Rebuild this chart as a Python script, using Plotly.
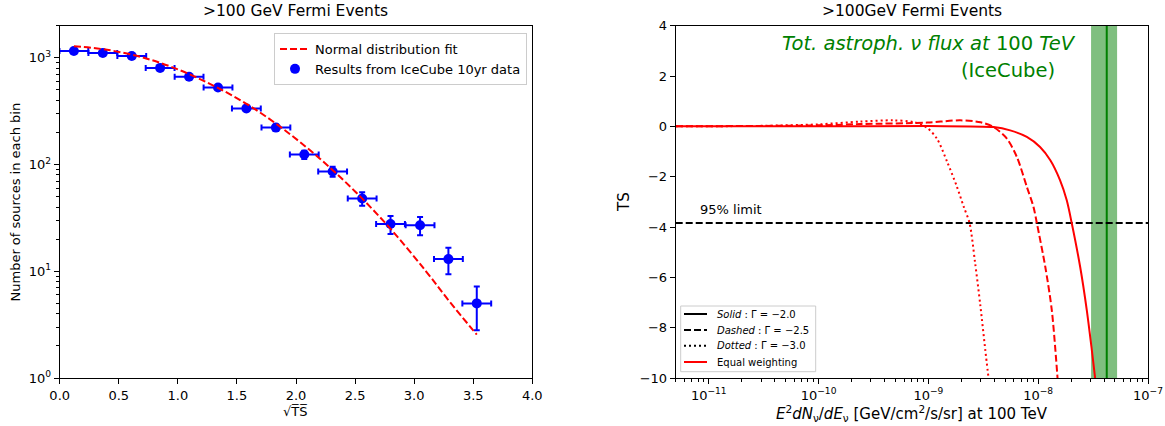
import plotly.graph_objects as go

FONT = "DejaVu Sans"

# ---------------- left panel: sqrt(TS) distribution ----------------
sqrt_ts = [0.12, 0.365, 0.61, 0.85, 1.095, 1.34, 1.58, 1.83, 2.07, 2.31, 2.56, 2.80, 3.05, 3.29, 3.53]
n_sources = [1160, 1110, 1040, 805, 665, 527, 336, 222, 124, 86, 48, 27.7, 27, 13, 5]
n_sources_err = [34, 33, 32, 28, 26, 23, 18, 15, 11, 9.3, 6.9, 5.3, 5.2, 3.6, 2.2]
bin_half_width = [0.122] * len(sqrt_ts)

fit_x = [0.12, 0.4, 0.7, 1.0, 1.3, 1.6, 1.9, 2.2, 2.5, 2.8, 3.1, 3.3, 3.53]
fit_y = [1285, 1190, 1010, 780, 550, 360, 212, 114, 56, 25, 10, 5.2, 2.55]

left_xticks = [0.0, 0.5, 1.0, 1.5, 2.0, 2.5, 3.0, 3.5, 4.0]
left_yticks = [1, 10, 100, 1000]
left_yticklabels = ["10<sup>0</sup>", "10<sup>1</sup>", "10<sup>2</sup>", "10<sup>3</sup>"]

# ---------------- right panel: TS vs neutrino flux ----------------
flux_solid = [5e-12, 1e-10, 1e-9, 3.93e-9, 5.56e-9, 7.88e-9, 1.04e-8, 1.29e-8, 1.58e-8,
              1.82e-8, 2.02e-8, 2.41e-8, 2.77e-8, 3.08e-8, 3.30e-8]
ts_solid = [0, 0, 0.01, -0.03, -0.16, -0.42, -0.82, -1.35, -2.14,
            -2.94, -3.84, -5.58, -7.30, -8.89, -10]

flux_dashed = [5e-12, 1e-10, 2.4e-10, 9.7e-10, 1.95e-9, 3.0e-9, 3.93e-9, 5.19e-9, 6.4e-9,
               7.89e-9, 9.06e-9, 9.72e-9, 1.16e-8, 1.33e-8, 1.50e-8]
ts_dashed = [0, 0.04, 0.09, 0.15, 0.24, 0.16, -0.03, -0.49, -1.22,
             -2.41, -3.2, -3.84, -5.58, -7.30, -10]

flux_dotted = [5e-12, 3e-11, 1e-10, 2.4e-10, 4.8e-10, 7.3e-10, 9.7e-10, 1.2e-9, 1.48e-9,
               1.82e-9, 2.1e-9, 2.37e-9, 2.66e-9, 2.97e-9, 3.3e-9, 3.53e-9]
ts_dotted = [0, 0.02, 0.08, 0.19, 0.24, 0.17, -0.05, -0.5, -1.4,
             -2.4, -3.2, -3.84, -5.4, -7.1, -8.9, -10]

ts_95_limit = -3.84
icecube_flux = 4.21e-8
icecube_flux_band = [3.03e-8, 5.23e-8]

right_yticks = [4, 2, 0, -2, -4, -6, -8, -10]
right_xticks = [1e-11, 1e-10, 1e-9, 1e-8, 1e-7]
right_xticklabels = ["10<sup>\u221211</sup>", "10<sup>\u221210</sup>", "10<sup>\u22129</sup>",
                     "10<sup>\u22128</sup>", "10<sup>\u22127</sup>"]

# right-panel key: label, line colour, dash
right_key = [("<i>Solid</i> : \u0393 = \u22122.0", "black", "solid"),
             ("<i>Dashed</i> : \u0393 = \u22122.5", "black", "7px,3px"),
             ("<i>Dotted</i> : \u0393 = \u22123.0", "black", "2px,3px"),
             ("Equal weighting", "#ff0000", "solid")]

RED = "#ff0000"
BLUE = "#0000ff"
GREEN = "#008000"

fig = go.Figure()

# data with error bars
fig.add_trace(go.Scatter(
    x=sqrt_ts, y=n_sources, mode="markers",
    marker=dict(color=BLUE, size=10, symbol="circle"),
    error_x=dict(type="data", array=bin_half_width, color=BLUE, thickness=2, width=3),
    error_y=dict(type="data", array=n_sources_err, color=BLUE, thickness=2, width=3),
    name="Results from IceCube 10yr data", legendrank=2,
    xaxis="x", yaxis="y",
))
# normal distribution fit
fig.add_trace(go.Scatter(
    x=fit_x, y=fit_y, mode="lines", line=dict(color=RED, width=2, dash="7px,3px", shape="spline"),
    name="Normal distribution fit", legendrank=1,
    xaxis="x", yaxis="y",
))

# IceCube astrophysical flux band and central value
fig.add_trace(go.Scatter(
    x=[icecube_flux_band[0], icecube_flux_band[1], icecube_flux_band[1], icecube_flux_band[0]],
    y=[-10, -10, 4, 4], mode="lines", fill="toself", line=dict(width=0),
    fillcolor="rgba(0,128,0,0.5)", showlegend=False, hoverinfo="skip",
    xaxis="x2", yaxis="y2",
))
fig.add_trace(go.Scatter(
    x=[icecube_flux, icecube_flux], y=[-10, 4], mode="lines",
    line=dict(color=GREEN, width=2), showlegend=False, xaxis="x2", yaxis="y2",
))
# 95% limit
fig.add_trace(go.Scatter(
    x=[5e-12, 1e-7], y=[ts_95_limit, ts_95_limit], mode="lines",
    line=dict(color="black", width=2, dash="7px,3px"), showlegend=False,
    xaxis="x2", yaxis="y2",
))
# TS profiles
for fx, ts, dash in [(flux_solid, ts_solid, "solid"),
                     (flux_dashed, ts_dashed, "7px,3px"),
                     (flux_dotted, ts_dotted, "2px,3px")]:
    fig.add_trace(go.Scatter(
        x=fx, y=ts, mode="lines",
        line=dict(color=RED, width=2, dash=dash, shape="spline", smoothing=0.8),
        showlegend=False, xaxis="x2", yaxis="y2",
    ))

W, H = 1165, 426
L_X0, L_X1 = 59.7 / W, 532.3 / W
R_X0, R_X1 = 675.7 / W, 1148 / W
Y0, Y1 = 1 - 378 / H, 1 - 25.7 / H

axis_common = dict(
    showline=True, linecolor="black", linewidth=1, mirror=True,
    ticks="outside", ticklen=5, tickwidth=1, tickcolor="black",
    showgrid=False, zeroline=False, automargin=False,
    tickfont=dict(family=FONT, size=13, color="black"),
)

left_minor = [m * 10 ** d for d in range(0, 4) for m in range(2, 10) if m * 10 ** d <= 2000]
right_minor = [m * 10.0 ** d for d in range(-12, -7) for m in range(2, 10) if m * 10.0 ** d >= 5e-12]

fig.update_layout(
    width=W, height=H,
    margin=dict(l=0, r=0, t=0, b=0),
    paper_bgcolor="white", plot_bgcolor="white",
    font=dict(family=FONT, color="black"),
    xaxis=dict(domain=[L_X0, L_X1], range=[0, 4], anchor="y",
               tickmode="array", tickvals=left_xticks,
               ticktext=[f"{v:.1f}" for v in left_xticks], **axis_common),
    yaxis=dict(domain=[Y0, Y1], type="log", range=[0, 3.30103], anchor="x",
               tickmode="array", tickvals=left_yticks, ticktext=left_yticklabels,
               minor=dict(tickmode="array", tickvals=left_minor, ticks="outside",
                          ticklen=3, tickcolor="black"),
               **axis_common),
    xaxis2=dict(domain=[R_X0, R_X1], type="log", range=[-11.30103, -7], anchor="y2",
                tickmode="array", tickvals=right_xticks, ticktext=right_xticklabels,
                minor=dict(tickmode="array", tickvals=right_minor, ticks="outside",
                           ticklen=3, tickcolor="black"),
                **axis_common),
    yaxis2=dict(domain=[Y0, Y1], range=[-10, 4], anchor="x2",
                tickmode="array", tickvals=right_yticks, **axis_common),
    legend=dict(x=527 / W, xanchor="right", y=1 - 33 / H, yanchor="top",
                bgcolor="rgba(255,255,255,0.8)", bordercolor="#cccccc", borderwidth=1,
                font=dict(family=FONT, size=13, color="black"), tracegroupgap=0),
    showlegend=True,
)

ann = [
    # panel titles
    dict(text=">100 GeV Fermi Events", x=(L_X0 + L_X1) / 2, y=Y1, yshift=4,
         xanchor="center", yanchor="bottom", font=dict(size=15.5)),
    dict(text=">100GeV Fermi Events", x=(R_X0 + R_X1) / 2, y=Y1, yshift=4,
         xanchor="center", yanchor="bottom", font=dict(size=15.5)),
    # axis titles
    dict(text="\u221aT\u0305S\u0305", x=(L_X0 + L_X1) / 2, y=1 - 411 / H,
         xanchor="center", yanchor="middle", font=dict(size=13)),
    dict(text="Number of sources in each bin", x=15.5 / W, y=1 - 202 / H, textangle=-90,
         xanchor="center", yanchor="middle", font=dict(size=13)),
    dict(text="<i>E</i><sup>2</sup><i>dN</i><sub>\u03bd</sub>/<i>dE</i><sub>\u03bd</sub>"
              " [GeV/cm<sup>2</sup>/s/sr] at 100 TeV",
         x=(R_X0 + R_X1) / 2, y=1 - 413 / H, xanchor="center", yanchor="middle",
         font=dict(size=15)),
    dict(text="TS", x=624 / W, y=1 - 202 / H, textangle=-90,
         xanchor="center", yanchor="middle", font=dict(size=15)),
    # IceCube label
    dict(text="<i>Tot. astroph. \u03bd flux at</i> 100 <i>TeV</i>", x=1078 / W, y=1 - 43 / H,
         xanchor="right", yanchor="middle", font=dict(size=19.5, color=GREEN)),
    dict(text="(IceCube)", x=1057 / W, y=1 - 70 / H,
         xanchor="right", yanchor="middle", font=dict(size=19.5, color=GREEN)),
    # 95% limit label
    dict(text="95% limit", x=698 / W, y=1 - 209 / H,
         xanchor="left", yanchor="middle", font=dict(size=13)),
]

# right-panel key drawn as a framed box with line samples and labels
KEY_X0, KEY_X1, KEY_Y0, KEY_Y1 = 680.7, 815.7, 306.0, 371.7
key_rows_y = [314.0, 330.0, 345.7, 362.0]
shapes = [dict(type="rect", xref="paper", yref="paper",
               x0=KEY_X0 / W, x1=KEY_X1 / W, y0=1 - KEY_Y1 / H, y1=1 - KEY_Y0 / H,
               fillcolor="rgba(255,255,255,0.8)", line=dict(color="#cccccc", width=1), layer="above")]
for (label, color, dash), ry in zip(right_key, key_rows_y):
    shapes.append(dict(type="line", xref="paper", yref="paper",
                       x0=684 / W, x1=707 / W, y0=1 - ry / H, y1=1 - ry / H,
                       line=dict(color=color, width=2, dash=dash), layer="above"))
    ann.append(dict(text=label, x=715 / W, y=1 - ry / H, xanchor="left", yanchor="middle",
                    font=dict(size=10)))

for a in ann:
    a.update(xref="paper", yref="paper", showarrow=False)
    a["font"] = dict(family=FONT, color=a["font"].get("color", "black"), size=a["font"]["size"])
fig.update_layout(annotations=ann, shapes=shapes)

fig.write_html("out.html")
